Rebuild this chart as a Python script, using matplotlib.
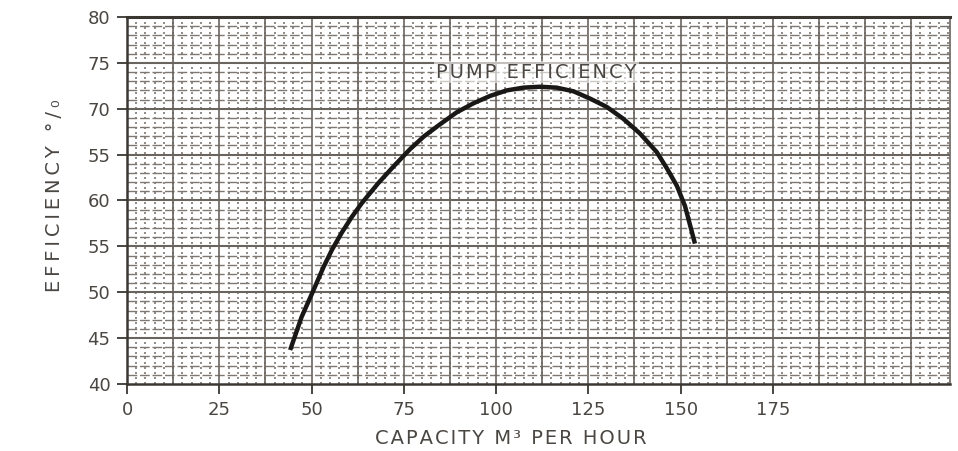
import numpy as np
import matplotlib
matplotlib.use("Agg")
import matplotlib.pyplot as plt
from matplotlib.ticker import MultipleLocator

# pump efficiency curve
capacity = [44.2, 47.3, 50.5, 53.2, 55.5, 58.2, 60.9, 63.6, 68.1, 72.2, 76.7,
            80.5, 84.8, 89.3, 93.9, 98.4, 102.9, 107.4, 111.9, 116.4, 121.0,
            125.5, 130.0, 134.5, 139.0, 143.5, 146.3, 149.0, 151.2, 153.9]
efficiency = [43.7, 47.3, 50.2, 52.7, 54.6, 56.5, 58.2, 59.7, 61.9, 63.7, 65.6,
              67.0, 68.3, 69.6, 70.6, 71.4, 72.0, 72.3, 72.4, 72.3, 71.9,
              71.1, 70.2, 68.9, 67.3, 65.3, 63.5, 61.6, 59.4, 55.3]

x_ticks = [0, 25, 50, 75, 100, 125, 150, 175]
y_ticks = [40, 45, 50, 55, 60, 65, 70, 75, 80]
y_tick_labels = ["40", "45", "50", "55", "60", "55", "70", "75", "80"]

ink = "#3a3632"
text_col = "#4a4642"
paper_major = "#6a645e"
paper_minor = "#7e7872"


def spaced(s, gap):
    # wide letter spacing like the stencil lettering on the scan
    return gap.join(s)


fig = plt.figure(figsize=(9.58, 4.51), dpi=100)
ax = fig.add_axes([0.1326, 0.1486, 0.859, 0.8137])

ax.set_xlim(0, 223)
ax.set_ylim(40, 80)

# graph paper
ax.xaxis.set_minor_locator(MultipleLocator(2.5))
ax.yaxis.set_minor_locator(MultipleLocator(1))
ax.xaxis.grid(True, which="minor", color=paper_minor, lw=1.2, ls=(0, (1.2, 1.8)))
ax.yaxis.grid(True, which="minor", color=paper_minor, lw=1.0, ls=(0, (7, 2)))
for xv in np.arange(12.5, 223, 12.5):
    ax.axvline(xv, color=paper_major, lw=1.2, zorder=1)
for yv in np.arange(45, 80, 5):
    ax.axhline(yv, color=paper_major, lw=1.5, zorder=1)
ax.set_axisbelow(True)

ax.plot(capacity, efficiency, color="#1a1816", lw=3.2, solid_capstyle="butt",
        solid_joinstyle="round", zorder=5)

ax.text(111, 74.0, spaced("PUMP EFFICIENCY", "\u200a"), ha="center", va="center",
        fontsize=14, color=text_col, zorder=6,
        bbox=dict(boxstyle="square,pad=0.1", fc="white", ec="none", alpha=0.6))

ax.set_xticks(x_ticks)
ax.set_yticks(y_ticks)
ax.set_yticklabels(y_tick_labels)
ax.tick_params(which="major", direction="out", length=7, width=1.3, color=ink,
               labelsize=13, labelcolor=text_col, pad=5)
ax.tick_params(which="minor", length=0)

for side in ["left", "bottom"]:
    ax.spines[side].set_color(ink)
    ax.spines[side].set_linewidth(1.8)
ax.spines["top"].set_color(ink)
ax.spines["top"].set_linewidth(2.2)
ax.spines["right"].set_color(paper_major)
ax.spines["right"].set_linewidth(1.2)

fig.text(55 / 958, 1 - 196 / 451, spaced("EFFICIENCY °/\u2080", "\u2009"),
         rotation=90, ha="center", va="center", fontsize=14, color=text_col)
fig.text(511 / 958, 1 - 438 / 451, spaced("CAPACITY M\u00b3 PER HOUR", "\u200a"),
         ha="center", va="center", fontsize=14, color=text_col)

fig.savefig("out.png", dpi=100)
